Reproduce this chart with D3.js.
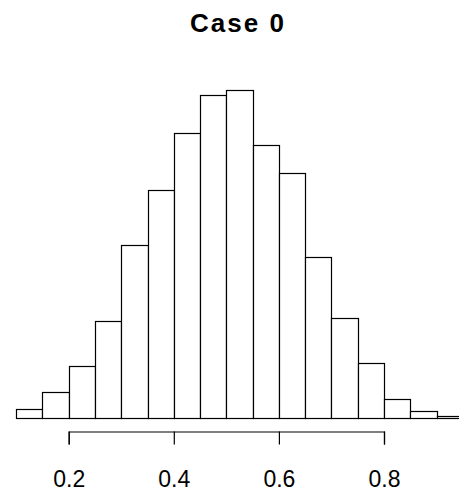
<!DOCTYPE html>
<html>
<head>
<meta charset="utf-8">
<script src="https://cdn.jsdelivr.net/npm/d3@7"></script>
<style>
  body { margin: 0; background: #fff; }
  svg { display: block; font-family: "Liberation Sans", Arial, sans-serif; }
</style>
</head>
<body>
<div id="chart"></div>
<script>
// histogram bins (left edges), width 0.05
var binStarts = [0.10, 0.15, 0.20, 0.25, 0.30, 0.35, 0.40, 0.45, 0.50,
                 0.55, 0.60, 0.65, 0.70, 0.75, 0.80, 0.85, 0.90];
var binWidth = 0.05;
var counts = [4, 11, 22, 41, 73, 96, 120, 136, 138,
              115, 103, 68, 42, 23, 8, 3, 1];
var tickValues = [0.2, 0.4, 0.6, 0.8];
var title = "Case 0";

var width = 459, height = 494;

var svg = d3.select('#chart').append('svg')
  .attr('width', width)
  .attr('height', height);

// R style: axis only spans the tick range, bars extend past it
var xScale = d3.scaleLinear()
  .domain([0.2, 0.8])
  .range([68.7, 384]);

var yScale = d3.scaleLinear()
  .domain([0, d3.max(counts)])
  .range([418, 90.3]);

var data = binStarts.map(function (s, i) {
  return { x0: s, x1: s + binWidth, n: counts[i] };
});

svg.append('g')
  .selectAll('rect')
  .data(data)
  .enter().append('rect')
    .attr('x', function (d) { return Math.round(xScale(d.x0)) + 0.5; })
    .attr('y', function (d) { return Math.round(yScale(d.n)) + 0.5; })
    .attr('width', function (d) { return Math.round(xScale(d.x1)) - Math.round(xScale(d.x0)); })
    .attr('height', function (d) { return Math.round(yScale(0)) - Math.round(yScale(d.n)); })
    .style('fill', '#fff')
    .style('stroke', '#000')
    .style('stroke-width', 1.2);

var xAxis = d3.axisBottom(xScale)
  .tickValues(tickValues)
  .tickFormat(d3.format('.1f'))
  .tickSize(13)
  .tickPadding(26);

var xGuide = svg.append('g')
  .attr('transform', 'translate(0,431.5)');
xAxis(xGuide);
xGuide.select('.domain').attr('stroke', '#000').attr('stroke-width', 1.2);
xGuide.selectAll('.tick line').attr('stroke', '#000').attr('stroke-width', 1.2);
xGuide.selectAll('.tick text')
  .attr('fill', '#000')
  .style('font-size', '23px')
  .style('font-family', '"Liberation Sans", Arial, sans-serif');

svg.append('text')
  .attr('x', 238)
  .attr('y', 31.5)
  .attr('text-anchor', 'middle')
  .style('font-size', '26px')
  .style('font-weight', 'bold')
  .style('letter-spacing', '2px')
  .text(title);
</script>
</body>
</html>
